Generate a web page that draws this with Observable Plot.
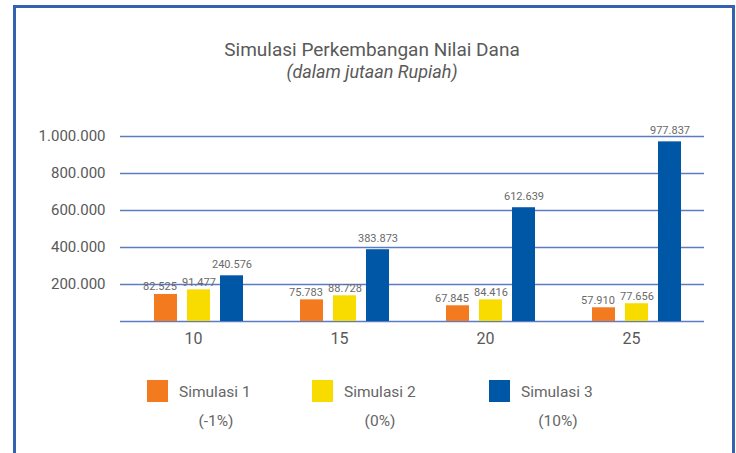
<!DOCTYPE html>
<html>
<head>
<meta charset="utf-8">
<script src="https://cdn.jsdelivr.net/npm/d3@7"></script>
<script src="https://cdn.jsdelivr.net/npm/@observablehq/plot@0.6"></script>
<style>
  html, body { margin: 0; padding: 0; background: #fff; }
  #wrap { position: relative; width: 736px; height: 453px; overflow: hidden; font-family: Roboto, "Open Sans", sans-serif; }
  #frame { position: absolute; left: 13px; top: 5px; width: 722px; height: 470px; border: 3px solid #3462b0; box-sizing: border-box; }
  .title { position: absolute; left: 0; width: 744px; text-align: center; color: #595959; white-space: nowrap; }
  #t1 { top: 40px; font-size: 19px; line-height: 19px; }
  #t2 { top: 63px; font-size: 18px; line-height: 18px; font-style: italic; }
  #chart { position: absolute; left: 0; top: 100px; }
  .sw { position: absolute; width: 21px; height: 22px; }
  .lt { position: absolute; font-size: 15.5px; line-height: 16px; color: #666; white-space: nowrap; }
  .ls { position: absolute; font-size: 15.5px; line-height: 16px; color: #666; white-space: nowrap; transform: translateX(-50%); }
</style>
</head>
<body>
<div id="wrap">
  <div id="frame"></div>
  <div class="title" id="t1"></div>
  <div class="title" id="t2"></div>
  <div id="chart"></div>
  <div id="legend"></div>
</div>
<script>
// ---- Data ----
const titleText = "Simulasi Perkembangan Nilai Dana";
const subtitleText = "(dalam jutaan Rupiah)";
const years = [10, 15, 20, 25];
const seriesNames = ["Simulasi 1", "Simulasi 2", "Simulasi 3"];
const seriesNotes = ["(-1%)", "(0%)", "(10%)"];
const seriesColors = ["#f47a20", "#f8dc00", "#0057a5"];
// bar heights as drawn in the picture
const sim1Bars = [146000, 117000, 85000, 74000];
const sim2Bars = [171000, 139000, 117000, 96000];
const sim3Bars = [247000, 388000, 615000, 971000];
// data labels as printed in the picture
const sim1Labels = ["82.525", "75.783", "67.845", "57.910"];
const sim2Labels = ["91.477", "88.728", "84.416", "77.656"];
const sim3Labels = ["240.576", "383.873", "612.639", "977.837"];
const yTicks = [200000, 400000, 600000, 800000, 1000000];
const yTickLabels = ["200.000", "400.000", "600.000", "800.000", "1.000.000"];
const gridValues = [0, 200000, 400000, 600000, 800000, 1000000];

// ---- Build table ----
const barSets = [sim1Bars, sim2Bars, sim3Bars];
const labelSets = [sim1Labels, sim2Labels, sim3Labels];
const rows = [];
years.forEach((yr, i) => {
  seriesNames.forEach((s, j) => {
    rows.push({year: yr, series: s, value: barSets[j][i], label: labelSets[j][i]});
  });
});

document.getElementById("t1").textContent = titleText;
document.getElementById("t2").textContent = subtitleText;

const chart = Plot.plot({
  width: 736,
  height: 256,
  marginLeft: 119,
  marginRight: 31,
  marginTop: 36,
  marginBottom: 35,
  style: {fontFamily: "Roboto, 'Open Sans', sans-serif", background: "transparent"},
  fx: {domain: years, padding: 0, axis: null, label: null},
  x: {domain: seriesNames, paddingInner: 0.3, paddingOuter: 0.8, align: 0.6, axis: null, label: null},
  y: {domain: [0, 1000000], axis: null, label: null},
  color: {domain: seriesNames, range: seriesColors},
  marks: [
    Plot.ruleY(gridValues, {stroke: "#5b7cc4", strokeWidth: 1.5}),
    Plot.barY(rows, {fx: "year", x: "series", y: "value", fill: "series"}),
    Plot.text(rows.filter(d => d.series === seriesNames[0]), {fx: "year", x: "series", y: "value", text: "label", dx: -6, dy: -4, lineAnchor: "bottom", fontSize: 11, fill: "#6a6a6a"}),
    Plot.text(rows.filter(d => d.series === seriesNames[1]), {fx: "year", x: "series", y: "value", text: "label", dy: -4, lineAnchor: "bottom", fontSize: 11, fill: "#6a6a6a"}),
    Plot.text(rows.filter(d => d.series === seriesNames[2]), {fx: "year", x: "series", y: "value", text: "label", dy: -8, lineAnchor: "bottom", fontSize: 11, fill: "#6a6a6a"}),
    Plot.axisY(yTicks, {anchor: "left", tickSize: 0, tickPadding: 15, fontSize: 15, fill: "#595959", label: null,
      tickFormat: d => yTickLabels[yTicks.indexOf(d)]}),
    Plot.axisFx({anchor: "bottom", tickSize: 0, tickPadding: 11, fontSize: 16, fill: "#595959", label: null})
  ]
});
document.getElementById("chart").appendChild(chart);

// ---- Legend ----
const legend = document.getElementById("legend");
const swX = [147, 312, 489];
const ltX = [179, 344, 521];
const lsX = [216, 380, 558];
seriesNames.forEach((s, j) => {
  const sw = document.createElement("div");
  sw.className = "sw";
  sw.style.left = swX[j] + "px";
  sw.style.top = "380px";
  sw.style.background = seriesColors[j];
  legend.appendChild(sw);
  const lt = document.createElement("div");
  lt.className = "lt";
  lt.style.left = ltX[j] + "px";
  lt.style.top = "384px";
  lt.textContent = s;
  legend.appendChild(lt);
  const ls = document.createElement("div");
  ls.className = "ls";
  ls.style.left = lsX[j] + "px";
  ls.style.top = "413px";
  ls.textContent = seriesNotes[j];
  legend.appendChild(ls);
});
</script>
</body>
</html>
